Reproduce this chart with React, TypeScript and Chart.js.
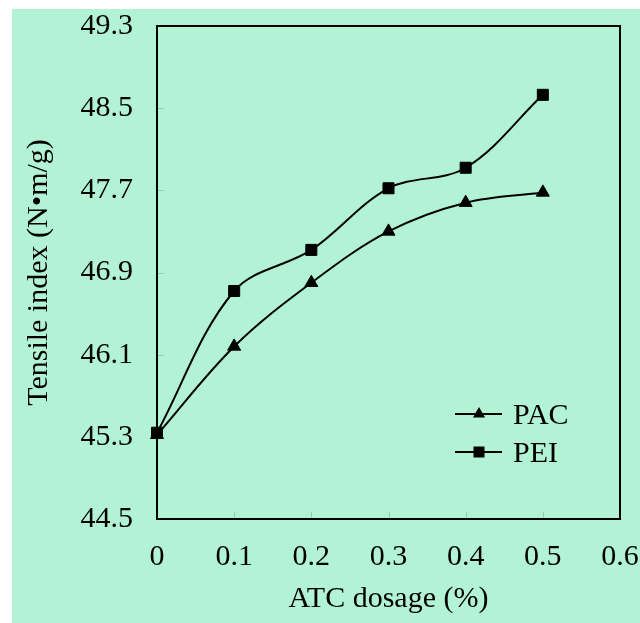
import React, { useEffect, useRef } from 'react';
import { Chart, registerables } from 'chart.js';

Chart.register(...registerables);

const dosage = [0, 0.1, 0.2, 0.3, 0.4, 0.5];
const pacValues = [45.32, 46.18, 46.8, 47.3, 47.58, 47.68];
const peiValues = [45.34, 46.72, 47.12, 47.72, 47.92, 48.63];
const xTicks = [0, 0.1, 0.2, 0.3, 0.4, 0.5, 0.6];
const xTickLabels = ['0', '0.1', '0.2', '0.3', '0.4', '0.5', '0.6'];
const yTicks = [44.5, 45.3, 46.1, 46.9, 47.7, 48.5, 49.3];
const yTickLabels = ['44.5', '45.3', '46.1', '46.9', '47.7', '48.5', '49.3'];
const seriesNames = ['PAC', 'PEI'];
const xTitle = 'ATC dosage (%)';
const yTitle = 'Tensile index (N\u2022m/g)';

const FONT_FAMILY = '"Liberation Serif", "Times New Roman", serif';
const FONT_SIZE = 30;
const BG = 'rgb(179,243,213)';

const framePlugin = {
  id: 'frameAndTicks',
  beforeDatasetsDraw(chart: any) {
    const { ctx, chartArea } = chart;
    const { left, right, top, bottom } = chartArea;
    ctx.save();
    ctx.strokeStyle = 'rgba(120,150,135,0.45)';
    ctx.lineWidth = 1;
    const xs = chart.scales.x;
    const ys = chart.scales.y;
    xTicks.forEach((v) => {
      const px = Math.round(xs.getPixelForValue(v)) + 0.5;
      ctx.beginPath();
      ctx.moveTo(px, bottom);
      ctx.lineTo(px, bottom - 7);
      ctx.stroke();
    });
    yTicks.forEach((v) => {
      const py = Math.round(ys.getPixelForValue(v)) + 0.5;
      ctx.beginPath();
      ctx.moveTo(left, py);
      ctx.lineTo(left + 7, py);
      ctx.stroke();
    });
    ctx.strokeStyle = '#000';
    ctx.lineWidth = 2;
    ctx.strokeRect(left, top, right - left, bottom - top);
    ctx.restore();
  },
};

const legendPlugin = {
  id: 'lineLegend',
  afterDraw(chart: any) {
    const { ctx, chartArea } = chart;
    const x0 = chartArea.left + 298;
    const y0 = chartArea.top + 388;
    const gap = 38;
    ctx.save();
    seriesNames.forEach((name, i) => {
      const y = y0 + i * gap;
      ctx.strokeStyle = '#000';
      ctx.lineWidth = 2;
      ctx.beginPath();
      ctx.moveTo(x0, y);
      ctx.lineTo(x0 + 47, y);
      ctx.stroke();
      const cx = x0 + 24;
      ctx.fillStyle = '#000';
      ctx.beginPath();
      if (i === 0) {
        const r = 7;
        ctx.moveTo(cx, y - r);
        ctx.lineTo(cx + r * 0.866, y + r / 2);
        ctx.lineTo(cx - r * 0.866, y + r / 2);
        ctx.closePath();
      } else {
        ctx.rect(cx - 5.5, y - 5.5, 11, 11);
      }
      ctx.fill();
      ctx.font = FONT_SIZE + 'px ' + FONT_FAMILY;
      ctx.textBaseline = 'middle';
      ctx.textAlign = 'left';
      ctx.fillText(name, x0 + 58, y + 2);
    });
    ctx.restore();
  },
};

export default function App() {
  const ref = useRef<HTMLCanvasElement>(null);

  useEffect(() => {
    if (!ref.current) return;
    const font = { family: FONT_FAMILY, size: FONT_SIZE };
    const chart = new Chart(ref.current, {
      type: 'line',
      data: {
        datasets: [
          {
            label: seriesNames[0],
            data: dosage.map((x, i) => ({ x, y: pacValues[i] })),
            borderColor: '#000',
            backgroundColor: '#000',
            borderWidth: 2,
            pointStyle: 'triangle',
            pointRadius: 7.5,
            pointBorderWidth: 1,
            pointBackgroundColor: '#000',
            pointBorderColor: '#000',
            tension: 0.35,
            clip: false,
          },
          {
            label: seriesNames[1],
            data: dosage.map((x, i) => ({ x, y: peiValues[i] })),
            borderColor: '#000',
            backgroundColor: '#000',
            borderWidth: 2,
            pointStyle: 'rect',
            pointRadius: 7.8,
            pointBorderWidth: 1,
            pointBackgroundColor: '#000',
            pointBorderColor: '#000',
            tension: 0.35,
            clip: false,
          },
        ],
      },
      options: {
        responsive: false,
        animation: false,
        events: [],
        layout: { padding: { top: 17, right: 20, left: 0, bottom: 0 } },
        plugins: {
          legend: { display: false },
          tooltip: { enabled: false },
        },
        scales: {
          x: {
            type: 'linear',
            min: 0,
            max: 0.6,
            afterBuildTicks: (s: any) => {
              s.ticks = xTicks.map((v) => ({ value: v }));
            },
            afterFit: (s: any) => {
              s.height = 104;
              s.paddingLeft = 0;
              s.paddingRight = 0;
            },
            ticks: {
              callback: (_v: any, i: number) => xTickLabels[i],
              font,
              color: '#000',
              padding: 20,
              maxRotation: 0,
              autoSkip: false,
            },
            grid: { display: false, drawTicks: false },
            border: { display: false },
            title: {
              display: true,
              text: xTitle,
              font,
              color: '#000',
              padding: { top: 0, bottom: 6 },
            },
          },
          y: {
            type: 'linear',
            min: 44.5,
            max: 49.3,
            afterBuildTicks: (s: any) => {
              s.ticks = yTicks.map((v) => ({ value: v }));
            },
            afterFit: (s: any) => {
              s.width = 145;
              s.paddingTop = 0;
              s.paddingBottom = 0;
            },
            ticks: {
              callback: (_v: any, i: number) => yTickLabels[i],
              font,
              color: '#000',
              padding: 24,
              autoSkip: false,
            },
            grid: { display: false, drawTicks: false },
            border: { display: false },
            title: {
              display: true,
              text: yTitle,
              font,
              color: '#000',
              padding: { top: 9, bottom: 0 },
            },
          },
        },
      },
      plugins: [framePlugin, legendPlugin],
    });
    return () => chart.destroy();
  }, []);

  return (
    <div
      style={{
        position: 'absolute',
        left: 12,
        top: 9,
        width: 628,
        height: 614,
        background: BG,
      }}
    >
      <canvas ref={ref} width={628} height={614} style={{ width: 628, height: 614, display: 'block' }} />
    </div>
  );
}
